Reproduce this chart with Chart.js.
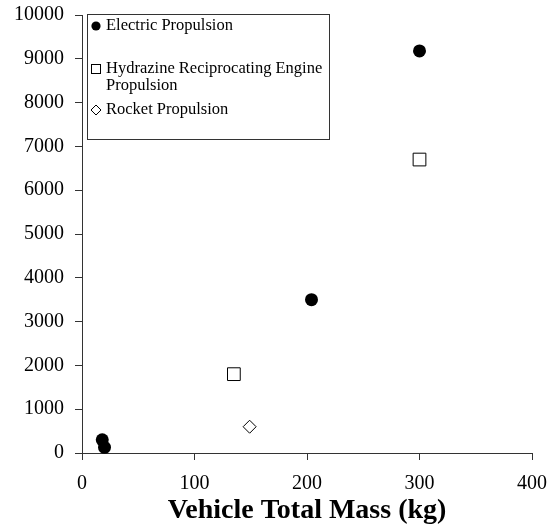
<!DOCTYPE html>
<html>
<head>
<meta charset="utf-8">
<script src="https://cdn.jsdelivr.net/npm/chart.js@4/dist/chart.umd.min.js"></script>
<style>
  html, body { margin: 0; padding: 0; background: #fff; }
  #wrap { width: 559px; height: 529px; position: relative; }
</style>
</head>
<body>
<div id="wrap"><canvas id="c" width="559" height="529"></canvas></div>
<script>
// ---- data ----
const seriesNames = ["Electric Propulsion", "Hydrazine Reciprocating Engine\nPropulsion", "Rocket Propulsion"];
const electricMass = [18, 20, 204, 300];
const electricValue = [300, 130, 3500, 9180];
const hydrazineMass = [135, 300];
const hydrazineValue = [1800, 6700];
const rocketMass = [149];
const rocketValue = [600];
const xTicks = [0, 100, 200, 300, 400];
const yTicks = [0, 1000, 2000, 3000, 4000, 5000, 6000, 7000, 8000, 9000, 10000];
const xTitle = "Vehicle Total Mass (kg)";

const SERIF = "'Liberation Serif', 'Times New Roman', serif";
const toPts = (xs, ys) => xs.map((x, i) => ({ x: x, y: ys[i] }));

const boxLegend = {
  id: 'boxLegend',
  afterDraw(chart) {
    const ctx = chart.ctx;
    ctx.save();
    const bx = 87, by = 14, bw = 242, bh = 125;
    ctx.strokeStyle = '#333';
    ctx.lineWidth = 1;
    ctx.strokeRect(bx + 0.5, by + 0.5, bw, bh);
    ctx.font = '16.5px ' + SERIF;
    ctx.fillStyle = '#000';
    ctx.textBaseline = 'middle';
    ctx.textAlign = 'left';
    const rows = [26, 69, 110];
    const mx = 96, tx = 106, lh = 17;
    chart.data.datasets.forEach((ds, i) => {
      const y = rows[i];
      ctx.strokeStyle = '#000';
      ctx.fillStyle = '#000';
      ctx.lineWidth = 1;
      if (ds.pointStyle === 'circle') {
        ctx.beginPath(); ctx.arc(mx, y, 4.6, 0, Math.PI * 2); ctx.fill();
      } else if (ds.pointStyle === 'rect') {
        ctx.strokeRect(mx - 4.5, y - 4.5, 9, 9);
      } else {
        ctx.beginPath();
        ctx.moveTo(mx, y - 5); ctx.lineTo(mx + 5, y); ctx.lineTo(mx, y + 5); ctx.lineTo(mx - 5, y); ctx.closePath();
        ctx.stroke();
      }
      ctx.fillStyle = '#000';
      String(ds.label).split('\n').forEach((line, k) => {
        ctx.fillText(line, tx, y + k * lh);
      });
    });
    ctx.restore();
  }
};

new Chart(document.getElementById('c'), {
  type: 'scatter',
  data: {
    datasets: [
      { label: seriesNames[0], data: toPts(electricMass, electricValue), pointStyle: 'circle',
        pointRadius: 6.5, pointHoverRadius: 6.5, backgroundColor: '#000', borderColor: '#000', borderWidth: 0, clip: false },
      { label: seriesNames[1], data: toPts(hydrazineMass, hydrazineValue), pointStyle: 'rect',
        pointRadius: 9, pointHoverRadius: 9, backgroundColor: '#fff', borderColor: '#000', borderWidth: 1, clip: false },
      { label: seriesNames[2], data: toPts(rocketMass, rocketValue), pointStyle: 'rectRot',
        pointRadius: 6.5, pointHoverRadius: 6.5, backgroundColor: '#fff', borderColor: '#000', borderWidth: 1, clip: false }
    ]
  },
  options: {
    responsive: false,
    animation: false,
    events: [],
    layout: { padding: { top: 15, right: 27, left: 0, bottom: 0 } },
    plugins: { legend: { display: false }, tooltip: { enabled: false } },
    scales: {
      x: {
        type: 'linear', min: xTicks[0], max: xTicks[xTicks.length - 1],
        afterBuildTicks: (s) => { s.ticks = xTicks.map(v => ({ value: v })); },
        afterFit: (s) => { s.height = 76; s.paddingLeft = 0; s.paddingRight = 0; },
        border: { display: true, color: '#333', width: 1 },
        grid: { display: true, drawOnChartArea: false, drawTicks: true, tickLength: 7, color: '#333' },
        ticks: { color: '#000', font: { family: SERIF, size: 20 }, padding: 12, maxRotation: 0,
                 callback: (v) => String(v) },
        title: { display: true, text: xTitle, color: '#000', font: { family: SERIF, size: 28, weight: 'bold' }, padding: { top: 0, bottom: 1 } }
      },
      y: {
        type: 'linear', min: yTicks[0], max: yTicks[yTicks.length - 1],
        afterBuildTicks: (s) => { s.ticks = yTicks.map(v => ({ value: v })); },
        afterFit: (s) => { s.width = 82; s.paddingTop = 0; s.paddingBottom = 0; },
        border: { display: true, color: '#333', width: 1 },
        grid: { display: true, drawOnChartArea: false, drawTicks: true, tickLength: 7, color: '#333' },
        ticks: { color: '#000', font: { family: SERIF, size: 20 }, padding: 11,
                 callback: (v) => String(v) }
      }
    }
  },
  plugins: [boxLegend]
});
</script>
</body>
</html>
